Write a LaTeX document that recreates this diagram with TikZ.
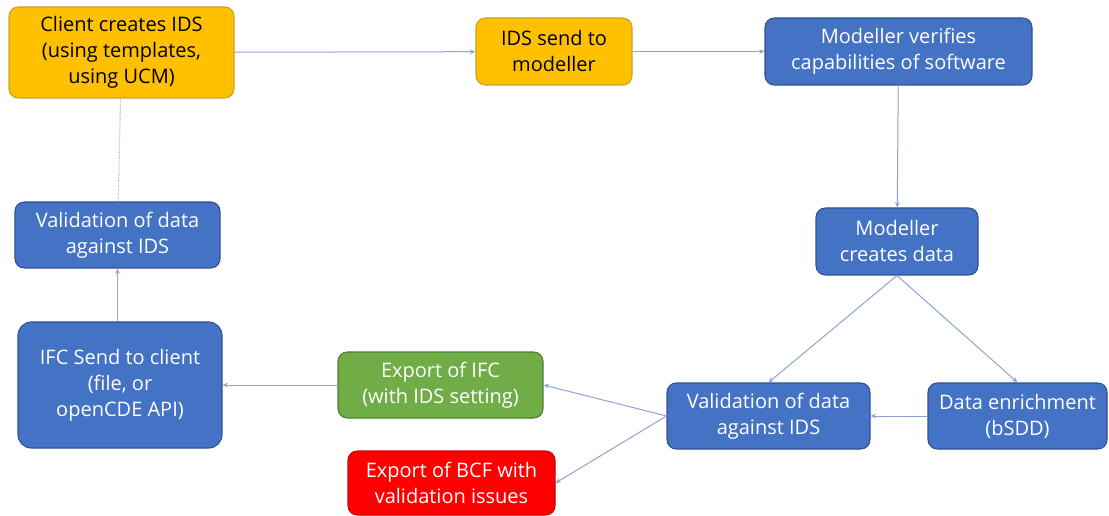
\documentclass[tikz,border=0pt]{standalone}
\usepackage{fontspec}
\setmainfont{Open Sans}
\usetikzlibrary{arrows.meta}
\definecolor{ydsyellow}{HTML}{FFC000}
\definecolor{ydsgold}{HTML}{C9A227}
\definecolor{ydsblue}{HTML}{4472C4}
\definecolor{ydsdarkblue}{HTML}{2F528F}
\definecolor{ydsgreen}{HTML}{70AD47}
\definecolor{ydsdarkgreen}{HTML}{507E32}
\definecolor{ydsred}{HTML}{FF0000}
\definecolor{ydsdarkred}{HTML}{D00000}
\definecolor{ydsline}{HTML}{8EA3D4}

\begin{document}
\begin{tikzpicture}[x=0.75pt,y=-0.75pt,
  box/.style={rounded corners=7pt,draw,line width=0.8pt,align=center,inner sep=0pt,
    font=\fontsize{15}{19.5}\selectfont},
  yellowbox/.style={box,fill=ydsyellow,draw=ydsgold,text=black},
  bluebox/.style={box,fill=ydsblue,draw=ydsdarkblue,text=white},
  greenbox/.style={box,fill=ydsgreen,draw=ydsdarkgreen,text=white},
  redbox/.style={box,fill=ydsred,draw=ydsdarkred,text=white},
  flow/.style={draw=ydsline,line width=0.75pt,-{Stealth[length=4pt,width=3.5pt]}}
  ]
  \useasboundingbox (0,0) rectangle (1109,516);

  \node[yellowbox,minimum width=168.75pt,minimum height=68.25pt] (client) at (121.5,52.5)
    {Client creates IDS\\(using templates,\\using UCM)};
  \node[yellowbox,minimum width=117pt,minimum height=50.25pt] (idssend) at (554,51.5)
    {IDS send to\\modeller};
  \node[bluebox,minimum width=200.25pt,minimum height=50.25pt] (verifies) at (898.5,51.5)
    {Modeller verifies\\capabilities of software};
  \node[bluebox,minimum width=121.5pt,minimum height=50.25pt] (creates) at (897,241.5)
    {Modeller\\creates data};
  \node[bluebox,minimum width=153.75pt,minimum height=49.5pt] (valleft) at (117.5,235)
    {Validation of data\\against IDS};
  \node[bluebox,rounded corners=10pt,minimum width=153pt,minimum height=94.5pt] (ifcsend) at (120,385)
    {IFC Send to client\\(file, or\\openCDE API)};
  \node[greenbox,minimum width=153.75pt,minimum height=49.5pt] (exportifc) at (440.5,385)
    {Export of IFC\\(with IDS setting)};
  \node[bluebox,minimum width=152.25pt,minimum height=49.5pt] (valright) at (768.5,416)
    {Validation of data\\against IDS};
  \node[bluebox,minimum width=134.25pt,minimum height=49.5pt] (enrich) at (1017.5,416)
    {Data enrichment\\(bSDD)};
  \node[redbox,minimum width=155.25pt,minimum height=48pt] (exportbcf) at (451.5,483)
    {Export of BCF with\\validation issues};

  \draw[flow] (client) -- (idssend);
  \draw[flow] (idssend) -- (verifies);
  \draw[flow] (verifies) -- (creates);
  \draw[flow] (creates.south) -- (valright.north);
  \draw[flow] (creates.south) -- (enrich.north);
  \draw[flow] (enrich) -- (valright);
  \draw[flow] (valright.west) -- (exportifc.east);
  \draw[flow] (valright.west) -- (exportbcf.east);
  \draw[flow] (exportifc) -- (ifcsend);
  \draw[flow] (ifcsend.north -| valleft) -- (valleft);
  \draw[gray!55,densely dotted,line width=0.9pt] (valleft) -- (client);
\end{tikzpicture}
\end{document}
